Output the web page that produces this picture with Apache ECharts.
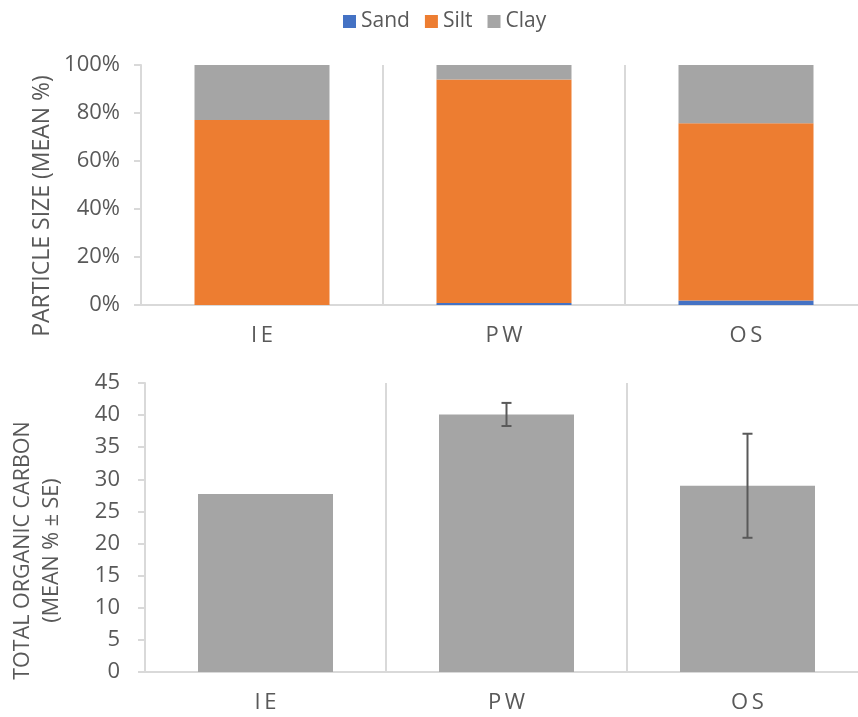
<!DOCTYPE html>
<html>
<head>
<meta charset="utf-8">
<style>
  html, body { margin: 0; padding: 0; background: #ffffff; }
  #chart { width: 858px; height: 717px; }
</style>
<script src="https://cdn.jsdelivr.net/npm/echarts@6/dist/echarts.min.js"></script>
</head>
<body>
<div id="chart"></div>
<script>
// Sites
var sites = ['IE', 'PW', 'OS'];

// Particle size fractions (mean %)
var sand = [0, 0.8, 1.9];
var silt = [77.1, 93.2, 73.8];
var clay = [22.9, 6.0, 24.3];

// Total organic carbon (mean % and standard error)
var tocMean = [27.7, 40.1, 29.0];
var tocSE = [null, 1.8, 8.1];

// Axis tick settings
var pctTicks = { min: 0, max: 100, interval: 20 };
var tocTicks = { min: 0, max: 45, interval: 5 };

var FONT = 'Open Sans';
var TEXT = '#595959';
var LINE = '#d9d9d9';

function spaced(v) { return v.split('').join('\u2009'); }

var chart = echarts.init(document.getElementById('chart'), null, { renderer: 'canvas' });

var errorData = sites.map(function (s, i) { return [i, tocMean[i], tocSE[i]]; })
  .filter(function (d) { return d[2] != null; });

function categoryAxis(gridIndex) {
  return {
    type: 'category',
    gridIndex: gridIndex,
    data: sites,
    axisLine: { show: true, lineStyle: { color: LINE, width: 2 } },
    axisTick: { show: false },
    splitLine: { show: true, lineStyle: { color: LINE, width: 2 } },
    axisLabel: { color: TEXT, fontFamily: FONT, fontSize: 22, margin: 20, formatter: spaced }
  };
}

function valueAxis(gridIndex, ticks, extra) {
  return Object.assign({
    type: 'value',
    gridIndex: gridIndex,
    min: ticks.min,
    max: ticks.max,
    interval: ticks.interval,
    axisLine: { show: true, lineStyle: { color: LINE, width: 2 } },
    axisTick: { show: true, length: 7, lineStyle: { color: LINE, width: 2 } },
    splitLine: { show: false },
    nameLocation: 'middle',
    nameMoveOverlap: false
  }, extra);
}

var option = {
  animation: false,
  backgroundColor: '#ffffff',
  legend: {
    data: ['Sand', 'Silt', 'Clay'],
    left: 343,
    top: 11,
    padding: 0,
    icon: 'rect',
    itemWidth: 13,
    itemHeight: 13,
    itemGap: 15,
    textStyle: { color: TEXT, fontFamily: FONT, fontSize: 21 }
  },
  grid: [
    { left: 141, top: 65, width: 726, height: 240, outerBoundsMode: 'none' },
    { left: 145, top: 383, width: 723, height: 289, outerBoundsMode: 'none' }
  ],
  xAxis: [categoryAxis(0), categoryAxis(1)],
  yAxis: [
    valueAxis(0, pctTicks, {
      name: 'PARTICLE SIZE (MEAN %)',
      nameGap: 87,
      nameTextStyle: { color: TEXT, fontFamily: FONT, fontSize: 23, lineHeight: 24, padding: [0, 42, 0, 0] },
      axisLabel: { color: TEXT, fontFamily: FONT, fontSize: 22, margin: 21, formatter: '{value}%' }
    }),
    valueAxis(1, tocTicks, {
      name: 'TOTAL ORGANIC CARBON\n(MEAN % \u00b1 SE)',
      nameGap: 79,
      nameTextStyle: { color: TEXT, fontFamily: FONT, fontSize: 21.5, lineHeight: 29, padding: [0, 46, 0, 0] },
      axisLabel: { color: TEXT, fontFamily: FONT, fontSize: 22, margin: 25 }
    })
  ],
  series: [
    { name: 'Sand', type: 'bar', stack: 'ps', xAxisIndex: 0, yAxisIndex: 0, barWidth: 135,
      itemStyle: { color: '#4472c4' }, data: sand },
    { name: 'Silt', type: 'bar', stack: 'ps', xAxisIndex: 0, yAxisIndex: 0, barWidth: 135,
      itemStyle: { color: '#ed7d31' }, data: silt },
    { name: 'Clay', type: 'bar', stack: 'ps', xAxisIndex: 0, yAxisIndex: 0, barWidth: 135,
      itemStyle: { color: '#a5a5a5' }, data: clay },
    { name: 'TOC', type: 'bar', xAxisIndex: 1, yAxisIndex: 1, barWidth: 135,
      itemStyle: { color: '#a5a5a5' }, data: tocMean },
    {
      name: 'TOC SE', type: 'custom', xAxisIndex: 1, yAxisIndex: 1, z: 5,
      data: errorData,
      renderItem: function (params, api) {
        var x = api.value(0), m = api.value(1), se = api.value(2);
        var hi = api.coord([x, m + se]);
        var lo = api.coord([x, m - se]);
        var cap = 5;
        var style = { stroke: '#595959', lineWidth: 2 };
        return {
          type: 'group',
          children: [
            { type: 'line', shape: { x1: hi[0], y1: hi[1], x2: lo[0], y2: lo[1] }, style: style },
            { type: 'line', shape: { x1: hi[0] - cap, y1: hi[1], x2: hi[0] + cap, y2: hi[1] }, style: style },
            { type: 'line', shape: { x1: lo[0] - cap, y1: lo[1], x2: lo[0] + cap, y2: lo[1] }, style: style }
          ]
        };
      }
    }
  ]
};

chart.setOption(option);
</script>
</body>
</html>
